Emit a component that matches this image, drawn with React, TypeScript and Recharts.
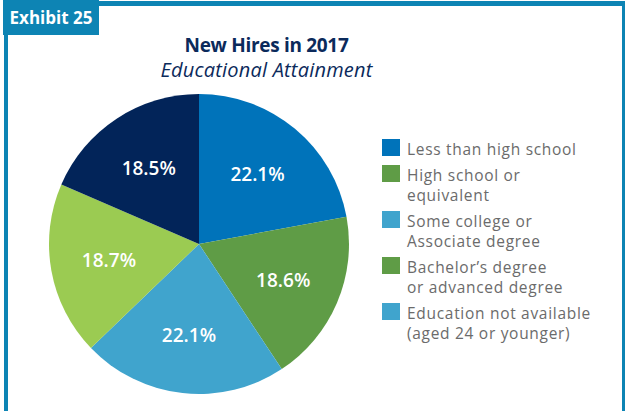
import React from 'react'
import {PieChart, Pie, Cell} from 'recharts'

const categories = [
  ['Less than high school'],
  ['High school or', 'equivalent'],
  ['Some college or', 'Associate degree'],
  ['Bachelor\u2019s degree', 'or advanced degree'],
  ['Education not available', '(aged 24 or younger)'],
]
const shares = [22.1, 18.6, 22.1, 18.7, 18.5]
const sliceColors = ['#0073ba', '#5f9c46', '#40a4cd', '#9bcb52', '#022459']
// the swatches in the original legend do not match every slice; kept as drawn
const swatchColors = ['#0073ba', '#5f9c46', '#40a4cd', '#5f9c46', '#40a4cd']

const data = categories.map((c, i) => ({name: c.join(' '), value: shares[i]}))

const FONT = '"Open Sans", Lato, sans-serif'
const NAVY = '#0b2a5b'
const FRAME = '#0d84b4'

const RAD = Math.PI / 180

const renderLabel = (p: any) => {
  const r = p.outerRadius * 0.61
  const x = p.cx + r * Math.cos(-p.midAngle * RAD)
  const y = p.cy + r * Math.sin(-p.midAngle * RAD)
  return (
    <text x={x} y={y} fill="#fff" textAnchor="middle" dominantBaseline="central"
      fontFamily={FONT} fontSize={19} fontWeight={600}>
      {p.value.toFixed(1)}%
    </text>
  )
}

const LegendBox = () => (
  <div style={{position: 'absolute', left: 382, top: 139, width: 240, fontFamily: FONT, fontSize: 15.5,
    letterSpacing: 0.7, color: '#6b6b6b', lineHeight: '20px'}}>
    {categories.map((lines, i) => (
      <div key={i} style={{display: 'flex', alignItems: 'flex-start', marginBottom: 6}}>
        <div style={{width: 18, height: 17, background: swatchColors[i], marginRight: 7, marginTop: 0, flexShrink: 0}} />
        <div>{lines.map((l, j) => <div key={j}>{l}</div>)}</div>
      </div>
    ))}
  </div>
)

const App = () => (
  <div style={{position: 'absolute', left: 0, top: 0, width: 625, height: 411, background: '#fff', overflow: 'hidden'}}>
    <div style={{position: 'absolute', left: 4, top: 1, width: 614, height: 420, borderTop: `5px solid ${FRAME}`, borderLeft: `4px solid ${FRAME}`, borderRight: `3px solid ${FRAME}`}} />
    <div style={{position: 'absolute', left: 3, top: 0, width: 96, height: 35, background: FRAME, color: '#fff',
      fontFamily: FONT, fontWeight: 700, fontSize: 17, lineHeight: '35px', textAlign: 'center'}}>Exhibit 25</div>
    <div style={{position: 'absolute', left: 0, top: 33, width: 533, textAlign: 'center', fontFamily: FONT, color: NAVY}}>
      <div style={{fontSize: 19, fontWeight: 700, letterSpacing: -0.3, lineHeight: '25px'}}>New Hires in 2017</div>
      <div style={{fontSize: 20, fontStyle: 'italic', fontWeight: 400, lineHeight: '24px', letterSpacing: 0.2}}>Educational Attainment</div>
    </div>
    <div style={{position: 'absolute', left: 0, top: 0}}>
      <PieChart width={625} height={411} margin={{top: 0, right: 0, bottom: 0, left: 0}}>
        <Pie data={data} dataKey="value" nameKey="name" cx={199} cy={244} outerRadius={150}
          startAngle={90} endAngle={-270} stroke="none" label={renderLabel} labelLine={false}
          isAnimationActive={false}>
          {data.map((d, i) => <Cell key={d.name} fill={sliceColors[i]} />)}
        </Pie>
      </PieChart>
    </div>
    <LegendBox />
  </div>
)

export default App
